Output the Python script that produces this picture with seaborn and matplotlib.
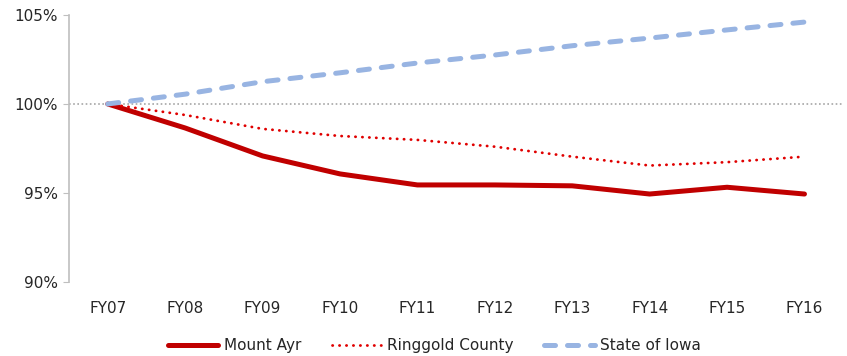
import matplotlib
import pandas as pd
import matplotlib.pyplot as plt
import seaborn as sns
import numpy as np
from matplotlib.ticker import FuncFormatter

matplotlib.use('Agg')

years = ['FY07', 'FY08', 'FY09', 'FY10', 'FY11', 'FY12', 'FY13', 'FY14', 'FY15', 'FY16']
mount_ayr = [100.0, 98.65, 97.08, 96.07, 95.45, 95.45, 95.4, 94.94, 95.32, 94.94]
ringgold = [100.0, 99.38, 98.6, 98.2, 97.98, 97.6, 97.04, 96.54, 96.73, 97.04]
iowa = [100.0, 100.55, 101.25, 101.75, 102.3, 102.75, 103.27, 103.7, 104.16, 104.6]

sns.set_style('white')
plt.rcParams['font.family'] = ['DejaVu Sans']

df = pd.DataFrame({'year': years, 'pos': np.arange(len(years)),
                   'Mount Ayr': mount_ayr, 'Ringgold County': ringgold,
                   'State of Iowa': iowa})

fig = plt.figure(figsize=(8.47, 3.56), dpi=100)
ax = fig.add_axes([0.0815, 0.208, 0.914, 0.75])

ax.axhline(100, color='#a6a6a6', lw=1.2, ls=(0, (1, 1.5)), zorder=1)

styles = {
    'Mount Ayr': dict(color='#c00000', lw=3.6, ls='-'),
    'Ringgold County': dict(color='#e00000', lw=2.0, ls=(0, (0.1, 2.4))),
    'State of Iowa': dict(color='#98b4e2', lw=3.6, ls=(0, (2.2, 2.4))),
}
for name, st in styles.items():
    sns.lineplot(data=df, x='pos', y=name, ax=ax, label=name, color=st['color'],
                 lw=st['lw'], ls=st['ls'], solid_capstyle='round',
                 dash_capstyle='round', zorder=3)

ax.set_xlim(-0.5, len(years) - 0.5)
ax.set_ylim(90, 105)
ax.set_yticks([90, 95, 100, 105])
ax.yaxis.set_major_formatter(FuncFormatter(lambda v, p: f'{v:.0f}%'))
ax.set_xticks(df['pos'])
ax.set_xticklabels(years)
ax.set_xlabel('')
ax.set_ylabel('')

for s in ['top', 'right', 'bottom']:
    ax.spines[s].set_visible(False)
ax.spines['left'].set_color('#bfbfbf')
ax.spines['left'].set_linewidth(1.2)
ax.tick_params(axis='y', which='both', left=True, length=4, color='#bfbfbf',
               labelsize=11, labelcolor='#262626', pad=4)
ax.tick_params(axis='x', bottom=False, labelsize=11, labelcolor='#262626', pad=10)

ax.legend(loc='upper center', bbox_to_anchor=(0.472, -0.16), ncol=3, frameon=False,
          fontsize=11, handlelength=3.3, handletextpad=0.35, columnspacing=2.0,
          labelcolor='#262626')

fig.savefig('out.png', dpi=100)
